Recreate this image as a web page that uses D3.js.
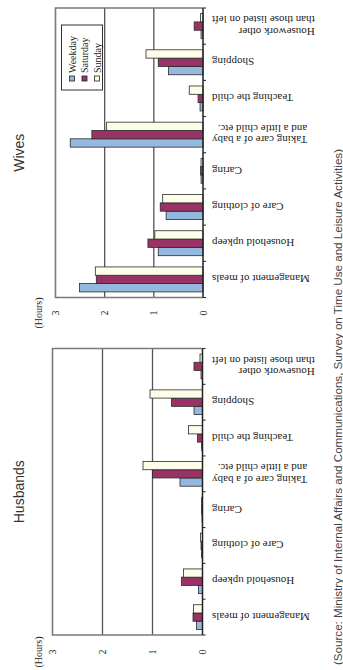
<!DOCTYPE html>
<html>
<head>
<meta charset="utf-8">
<script src="https://cdn.jsdelivr.net/npm/d3@7"></script>
<style>
  html, body { margin: 0; padding: 0; background: #fff; }
  svg { display: block; }
</style>
</head>
<body>
<svg id="chart" width="343" height="670"></svg>
<script>
// Categories of housework (bottom to top within each panel)
const categories = [
  "Management of meals",
  "Household upkeep",
  "Care of clothing",
  "Caring",
  "Taking care of a baby and a little child etc.",
  "Teaching the child",
  "Shopping",
  "Housework other than those listed on left"
];
// How each category label is broken into lines
const categoryLines = [
  ["Management of meals"],
  ["Household upkeep"],
  ["Care of clothing"],
  ["Caring"],
  ["Taking care of a baby", "and a little child etc."],
  ["Teaching the child"],
  ["Shopping"],
  ["Housework other", "than those listed on left"]
];
const seriesNames = ["Weekday", "Saturday", "Sunday"];

// Hours per day spent, wives
const wivesWeekday  = [2.51, 0.91, 0.75, 0.04, 2.70, 0.06, 0.70, 0.04];
const wivesSaturday = [2.17, 1.12, 0.87, 0.05, 2.26, 0.10, 0.91, 0.18];
const wivesSunday   = [2.19, 0.98, 0.82, 0.04, 1.96, 0.28, 1.16, 0.05];

// Hours per day spent, husbands
const husbandsWeekday  = [0.12, 0.08, 0.02, 0.01, 0.45, 0.02, 0.17, 0.03];
const husbandsSaturday = [0.19, 0.42, 0.03, 0.02, 1.00, 0.10, 0.62, 0.17];
const husbandsSunday   = [0.18, 0.38, 0.04, 0.02, 1.19, 0.28, 1.05, 0.05];

const hourTicks = [0, 1, 2, 3];
const unitLabel = "(Hours)";
const sourceText = "(Source: Ministry of Internal Affairs and Communications, Survey on Time Use and Leisure Activities)";

const colors = { Weekday: "#95b9de", Saturday: "#993366", Sunday: "#fdfdea" };
const serif = "'Liberation Serif', 'Times New Roman', serif";
const sans = "'Liberation Sans', Arial, sans-serif";

const svg = d3.select("#chart");

const panels = [
  { title: "Wives", series: [wivesWeekday, wivesSaturday, wivesSunday],
    top: 8, bottom: 297.5, x0: 203, x3: 55.5, tickY: 313, legend: true },
  { title: "Husbands", series: [husbandsWeekday, husbandsSaturday, husbandsSunday],
    top: 348.5, bottom: 635, x0: 202.5, x3: 52.5, tickY: 652, legend: false }
];

panels.forEach(p => {
  const g = svg.append("g");
  const x = d3.scaleLinear().domain([0, 3]).range([p.x0, p.x3]);
  const yCat = d3.scaleBand().domain(categories).range([p.bottom, p.top]).padding(0);
  const yBar = d3.scaleBand().domain(categories).range([p.bottom, p.top])
    .paddingInner(0.31).paddingOuter(0.155);
  const ySer = d3.scaleBand().domain(seriesNames).range([yBar.bandwidth(), 0]);

  // gridlines at whole hours
  g.selectAll("line.grid").data(hourTicks.filter(t => t > 0 && t < 3)).join("line")
    .attr("x1", d => x(d)).attr("x2", d => x(d))
    .attr("y1", p.top).attr("y2", p.bottom)
    .attr("stroke", "#555").attr("stroke-width", 1.3);

  // plot frame
  g.append("path")
    .attr("d", `M${x(0)},${p.top}H${x(3)}V${p.bottom}H${x(0)}`)
    .attr("fill", "none").attr("stroke", "#7a7a7a").attr("stroke-width", 1.6);

  // bars
  seriesNames.forEach((s, si) => {
    g.selectAll(null).data(categories).join("rect")
      .attr("x", (c, i) => x(p.series[si][i]))
      .attr("y", c => yBar(c) + ySer(s))
      .attr("width", (c, i) => x(0) - x(p.series[si][i]))
      .attr("height", ySer.bandwidth())
      .attr("fill", colors[s])
      .attr("stroke", "#2a2a2a").attr("stroke-width", 0.8);
  });

  // category axis at zero hours
  g.append("line")
    .attr("x1", x(0)).attr("x2", x(0)).attr("y1", p.top).attr("y2", p.bottom)
    .attr("stroke", "#222").attr("stroke-width", 1.5);
  const bounds = d3.range(categories.length + 1).map(i => p.top + i * yCat.step());
  g.selectAll("line.ctick").data(bounds).join("line")
    .attr("x1", x(0)).attr("x2", x(0) + 3)
    .attr("y1", d => d).attr("y2", d => d)
    .attr("stroke", "#222").attr("stroke-width", 1);

  // category labels (drawn rotated)
  categories.forEach((c, i) => {
    const cy = yCat(c) + yCat.bandwidth() / 2;
    const lg = g.append("g").attr("transform", `translate(212,${cy}) rotate(180)`);
    const lines = categoryLines[i];
    const lh = 11.5;
    const texts = lines.map((ln, li) => lg.append("text")
      .attr("y", (li - (lines.length - 1) / 2) * lh)
      .attr("dominant-baseline", "central")
      .attr("font-family", serif).attr("font-size", 11)
      .attr("fill", "#222").text(ln));
    const w = d3.max(texts, t => t.node().getComputedTextLength());
    texts.forEach(t => t.attr("x", -w).attr("text-anchor", "start"));
  });

  // hour tick labels
  g.selectAll("text.hour").data(hourTicks).join("text")
    .attr("transform", d => `translate(${x(d)},${p.tickY}) rotate(-90)`)
    .attr("text-anchor", "middle").attr("dominant-baseline", "central")
    .attr("font-family", serif).attr("font-size", 10).attr("fill", "#222")
    .text(d => d);
  g.append("text")
    .attr("transform", `translate(38,${p.tickY}) rotate(-90)`)
    .attr("text-anchor", "middle").attr("dominant-baseline", "central")
    .attr("font-family", serif).attr("font-size", 10).attr("fill", "#222")
    .text(unitLabel);

  // panel title
  g.append("text")
    .attr("transform", `translate(19,${(p.top + p.bottom) / 2}) rotate(-90)`)
    .attr("text-anchor", "middle").attr("dominant-baseline", "central")
    .attr("font-family", sans).attr("font-size", 14).attr("fill", "#333")
    .text(p.title);

  // legend
  if (p.legend) {
    const lgd = g.append("g");
    lgd.append("rect").attr("x", 61.5).attr("y", 25).attr("width", 41).attr("height", 65)
      .attr("fill", "#fff").attr("stroke", "#333").attr("stroke-width", 1);
    seriesNames.forEach((s, si) => {
      const cx = 72 + si * 12.5;
      lgd.append("rect").attr("x", cx - 2.5).attr("y", 76).attr("width", 5).attr("height", 5)
        .attr("fill", colors[s]).attr("stroke", "#222").attr("stroke-width", 0.8);
      lgd.append("text")
        .attr("transform", `translate(${cx},73) rotate(-90)`)
        .attr("text-anchor", "start").attr("dominant-baseline", "central")
        .attr("font-family", serif).attr("font-size", 10).attr("fill", "#222")
        .text(s);
    });
  }
});

// source note along the right edge
svg.append("text")
  .attr("transform", "translate(338,665) rotate(-90)")
  .attr("text-anchor", "start").attr("dominant-baseline", "central")
  .attr("font-family", sans).attr("font-size", 10.5).attr("fill", "#444")
  .attr("textLength", 516).attr("lengthAdjust", "spacingAndGlyphs")
  .text(sourceText);
</script>
</body>
</html>
